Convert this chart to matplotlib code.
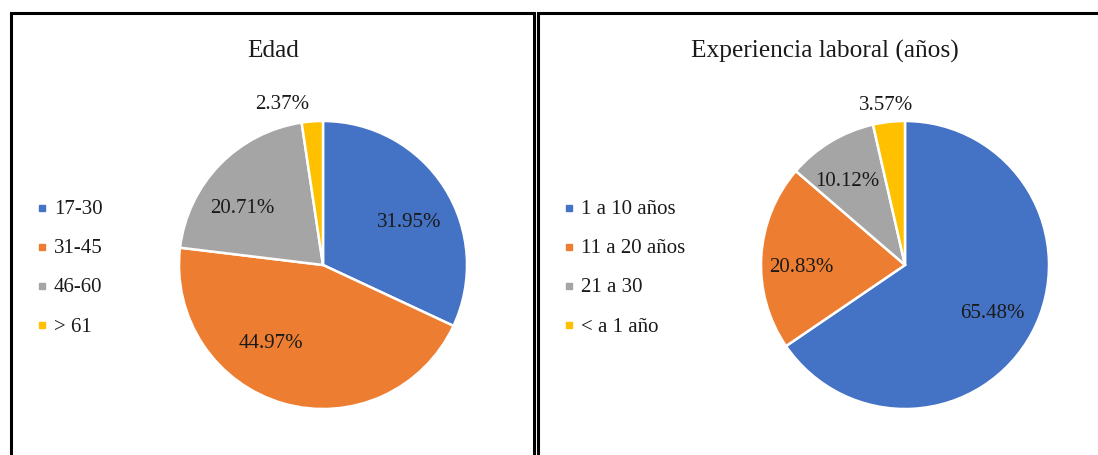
import matplotlib.pyplot as plt
from matplotlib.lines import Line2D
from matplotlib.patches import Rectangle

plt.rcParams['font.family'] = ['Liberation Serif', 'DejaVu Serif']

# Distribución por edad
edad_labels = ["17-30", "31-45", "46-60", "> 61"]
edad_pct = [31.95, 44.97, 20.71, 2.37]

# Distribución por experiencia laboral
exp_labels = ["1 a 10 años", "11 a 20 años", "21 a 30", "< a 1 año"]
exp_pct = [65.48, 20.83, 10.12, 3.57]

colors = ["#4472C4", "#ED7D31", "#A5A5A5", "#FFC000"]
text_color = "#1a1a1a"

W, H = 1098, 456
fig = plt.figure(figsize=(W / 100, H / 100), dpi=100)


def px_box(x0, y0, x1, y1):
    # pixel box (top-left origin) -> figure fraction [left, bottom, width, height]
    return [x0 / W, 1 - y1 / H, (x1 - x0) / W, (y1 - y0) / H]


# panel frames, cut off at the bottom
for x0, x1 in [(11, 534), (538, 1120)]:
    fig.patches.append(Rectangle((x0 / W, -0.1), (x1 - x0) / W, 1.1 - 14 / H,
                                 transform=fig.transFigure, fill=False,
                                 edgecolor="black", linewidth=2.2, zorder=0))


def draw_pie(center_x, values, label_pos):
    r = 144
    ax = fig.add_axes(px_box(center_x - r, 266 - r, center_x + r, 266 + r))
    ax.pie(values, colors=colors, startangle=90, counterclock=False, radius=1,
           wedgeprops=dict(edgecolor="white", linewidth=1.8))
    ax.set_xlim(-1, 1)
    ax.set_ylim(-1, 1)
    ax.set_aspect("equal")
    ax.axis("off")
    for v, (lx, ly) in zip(values, label_pos):
        ax.text(lx, ly, f"{v:.2f}%", ha="center", va="center",
                fontsize=15, color=text_color)
    return ax


draw_pie(323, edad_pct, [(0.60, 0.30), (-0.36, -0.54), (-0.56, 0.40), (-0.28, 1.12)])
draw_pie(905, exp_pct, [(0.61, -0.33), (-0.72, -0.01), (-0.40, 0.59), (-0.13, 1.115)])

fig.text(273 / W, 1 - 51 / H, "Edad", ha="center", va="center",
         fontsize=18.3, color=text_color)
fig.text(825 / W, 1 - 51 / H, "Experiencia laboral (años)", ha="center",
         va="center", fontsize=18.3, color=text_color)


def draw_legend(x_marker, labels):
    for i, lab in enumerate(labels):
        y = 1 - (209 + 39 * i) / H
        fig.add_artist(Line2D([x_marker / W], [y], marker="s", markersize=5,
                              color=colors[i], linestyle="None",
                              transform=fig.transFigure))
        fig.text((x_marker + 12) / W, y - 1 / H, lab, ha="left", va="center",
                 fontsize=15, color=text_color)


draw_legend(42, edad_labels)
draw_legend(569, exp_labels)

fig.savefig("out.png", dpi=100)
